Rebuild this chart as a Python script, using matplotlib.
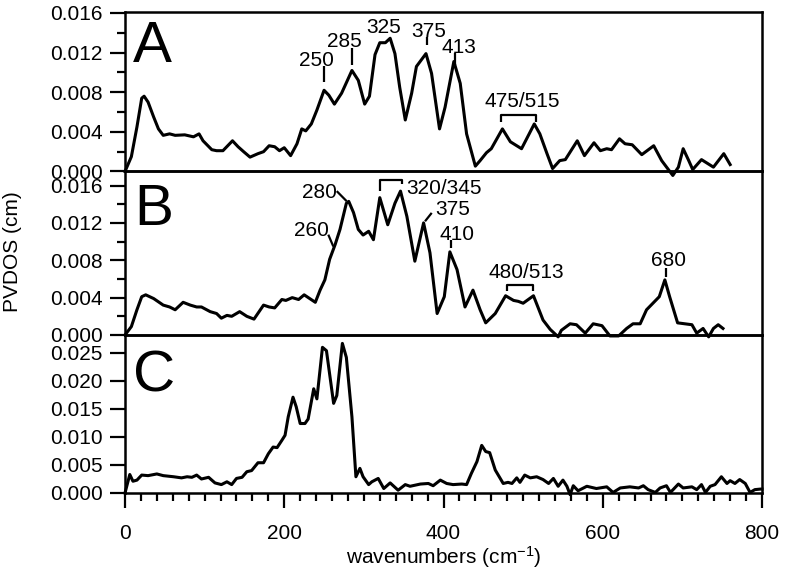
import numpy as np
import matplotlib
matplotlib.use("Agg")
import matplotlib.pyplot as plt
from matplotlib.ticker import MultipleLocator, FormatStrFormatter

plt.rcParams['font.family'] = ['Liberation Sans', 'DejaVu Sans']
plt.rcParams['mathtext.fontset'] = 'custom'
plt.rcParams['mathtext.rm'] = 'Liberation Sans'
plt.rcParams['mathtext.it'] = 'Liberation Sans:italic'

# panel A spectrum
A_x = [0, 8, 15, 21, 24, 29, 36, 42, 48, 56, 63, 75, 86, 93, 98, 109, 115, 123, 135, 142,
       149, 157, 167, 174, 181, 188, 194, 200, 208, 216, 222, 227, 234, 241, 250, 256, 263, 272, 285, 293,
       301, 307, 314, 320, 327, 333, 339, 345, 352, 360, 366, 378, 385, 395, 402, 413, 421, 429, 440, 446,
       454, 460, 474, 484, 498, 514, 521, 530, 537, 546, 553, 568, 577, 589, 597, 605, 611, 621, 628, 637,
       649, 664, 674, 688, 695, 701, 708, 713, 724, 739, 752, 760]
A_y = [0, 0.0015, 0.0045, 0.0074, 0.0076, 0.0070, 0.0055, 0.0043, 0.00365, 0.0038,
       0.00365, 0.0037, 0.0035, 0.0038, 0.0031, 0.0022, 0.0021, 0.0021, 0.0031, 0.0025,
       0.0020, 0.00145, 0.0018, 0.0020, 0.0026, 0.0025, 0.0021, 0.0024, 0.0016, 0.0028,
       0.0043, 0.0041, 0.0048, 0.0062, 0.0082, 0.0077, 0.0068, 0.0079, 0.0102, 0.0092,
       0.0068, 0.0076, 0.0118, 0.0130, 0.0130, 0.01345, 0.0119, 0.0085, 0.0052, 0.0079,
       0.0106, 0.0119, 0.0099, 0.0043, 0.0065, 0.0111, 0.0089, 0.0038, 0.00054, 0.0011,
       0.0019, 0.0023, 0.0043, 0.0030, 0.0023, 0.0048, 0.0038, 0.0018, 0.0003, 0.0011,
       0.0012, 0.0031, 0.0016, 0.0029, 0.0021, 0.0023, 0.0022, 0.0033, 0.0028, 0.0027,
       0.0017, 0.0026, 0.0011, -0.0004, 0.00044, 0.0023, 0.0011, 0.0002, 0.0012, 0.00044,
       0.0018, 0.0007]

# panel B
B_x = [0, 8, 15, 21, 26, 36, 48, 56, 63, 73, 82, 90, 96, 107, 115, 121, 128, 134, 144, 153,
       162, 174, 181, 188, 197, 202, 210, 218, 225, 232, 239, 245, 251, 257, 264, 270, 278, 281, 287, 293,
       299, 306, 312, 320, 330, 339, 346, 354, 364, 375, 383, 392, 401, 408, 417, 427, 437, 446, 453, 465,
       478, 488, 494, 500, 513, 525, 534, 544, 548, 559, 567, 578, 588, 599, 609, 620, 630, 638, 647, 655,
       663, 671, 678, 684, 694, 703, 712, 718, 726, 733, 739, 745, 751]
B_y = [0, 0.0009, 0.0027, 0.0041, 0.0043, 0.0039, 0.0032, 0.0030, 0.0027, 0.0035,
       0.0032, 0.0030, 0.0030, 0.0025, 0.0023, 0.0018, 0.0021, 0.0020, 0.0025, 0.0020,
       0.0017, 0.0032, 0.0030, 0.0029, 0.0038, 0.0037, 0.0040, 0.0038, 0.0043, 0.0039,
       0.0035, 0.0048, 0.0059, 0.0081, 0.0097, 0.0113, 0.0141, 0.0143, 0.0131, 0.0113,
       0.0107, 0.0111, 0.0102, 0.0147, 0.0118, 0.0141, 0.0154, 0.0127, 0.0079, 0.0120,
       0.0088, 0.0023, 0.0041, 0.0089, 0.0070, 0.0030, 0.0048, 0.0027, 0.0013, 0.0023,
       0.0042, 0.0037, 0.0036, 0.0034, 0.0042, 0.0016, 0.0006, -0.0002, 0.0005, 0.0012,
       0.0011, 0.0002, 0.0012, 0.0010, -0.0001, -0.0001, 0.0007, 0.0012, 0.0012, 0.0027,
       0.0034, 0.0041, 0.0059, 0.0041, 0.0013, 0.0012, 0.0011, 0.0002, 0.0007, -0.0002,
       0.0007, 0.0011, 0.0007]

# panel C
C_x = [0, 6, 10, 15, 21, 29, 40, 48, 61, 71, 78, 84, 90, 96, 105, 113, 121, 128, 134, 140,
       147, 153, 159, 167, 174, 180, 186, 191, 197, 201, 205, 211, 215, 220, 226, 230, 237, 241, 248, 253,
       262, 266, 273, 278, 285, 290, 295, 299, 306, 310, 318, 325, 333, 343, 352, 358, 371, 381, 387, 396,
       404, 412, 423, 429, 435, 442, 448, 453, 458, 465, 475, 481, 486, 492, 496, 502, 509, 517, 525, 532,
       538, 544, 550, 555, 559, 563, 569, 580, 592, 605, 613, 622, 634, 645, 651, 657, 666, 672, 680, 685,
       695, 701, 712, 718, 724, 729, 735, 741, 749, 756, 760, 766, 772, 779, 785, 791, 798, 800]
C_y = [0, 0.0033, 0.0021, 0.0023, 0.0032, 0.0031, 0.0034, 0.0031, 0.0029, 0.0027,
       0.0029, 0.0028, 0.0032, 0.0025, 0.0028, 0.0018, 0.0015, 0.0020, 0.0015, 0.0026,
       0.0028, 0.0038, 0.0040, 0.0054, 0.0054, 0.0070, 0.0082, 0.0081, 0.0094, 0.0103,
       0.0136, 0.0171, 0.0154, 0.0124, 0.0124, 0.0132, 0.0186, 0.0168, 0.0260, 0.0254,
       0.0160, 0.0174, 0.0267, 0.0242, 0.0136, 0.0029, 0.0044, 0.0029, 0.0015, 0.0020,
       0.0026, 0.0008, 0.0018, 0.0005, 0.0015, 0.0012, 0.0016, 0.0017, 0.0013, 0.0023,
       0.0017, 0.0015, 0.0016, 0.0015, 0.0035, 0.0056, 0.0085, 0.0074, 0.0072, 0.0041,
       0.0017, 0.0019, 0.0017, 0.0027, 0.0019, 0.0032, 0.0027, 0.0029, 0.0024, 0.0017,
       0.0026, 0.0012, 0.0023, 0.0012, -0.0003, 0.0013, 0.0004, 0.0012, 0.0008, 0.0011,
       0.0001, 0.0009, 0.0011, 0.0009, 0.0013, 0.0006, 0.0001, 0.0009, 0.0013, 0.0001,
       0.0016, 0.0009, 0.0011, 0.0006, 0.0015, 0.0001, 0.0012, 0.0015, 0.0029, 0.0017,
       0.0022, 0.0017, 0.0024, 0.0017, 0.0001, 0.0006, 0.0007, 0.0007]

panel_names = ["A", "B", "C"]

fs = 15
lw_line = 2.2

fig = plt.figure(figsize=(7.85, 5.70), dpi=100)
left, width = 125 / 785, 637 / 785
axA = fig.add_axes([left, 1 - 171.5 / 570, width, 159.5 / 570])
axB = fig.add_axes([left, 1 - 335 / 570, width, 163.5 / 570])
axC = fig.add_axes([left, 1 - 493 / 570, width, 158 / 570])
axes = [axA, axB, axC]

axA.plot(A_x, A_y, color='k', lw=lw_line, clip_on=False, solid_joinstyle='round', zorder=3)
axB.plot(B_x, B_y, color='k', lw=lw_line, clip_on=False, solid_joinstyle='round', zorder=3)
axC.plot(C_x, C_y, color='k', lw=lw_line, clip_on=False, solid_joinstyle='round', zorder=3)

axA.set_ylim(0, 0.0161)
axB.set_ylim(0, 0.0175)
axC.set_ylim(0, 0.0282)

for ax, name in zip(axes, panel_names):
    ax.set_xlim(0, 800)
    for s in ax.spines.values():
        s.set_linewidth(1.8)
    ax.tick_params(axis='y', which='major', direction='out', length=11, width=1.6,
                   labelsize=fs, pad=5)
    ax.tick_params(axis='y', which='minor', direction='out', length=5.5, width=1.6)
    ax.yaxis.set_major_formatter(FormatStrFormatter('%.3f'))
    ax.patch.set_alpha(0)

for ax in [axA, axB]:
    ax.yaxis.set_major_locator(MultipleLocator(0.004))
    ax.yaxis.set_minor_locator(MultipleLocator(0.002))
    ax.tick_params(axis='x', which='both', bottom=False, labelbottom=False)

axC.yaxis.set_major_locator(MultipleLocator(0.005))
axC.xaxis.set_major_locator(MultipleLocator(200))
axC.xaxis.set_minor_locator(MultipleLocator(20))
axC.tick_params(axis='x', which='major', direction='out', length=11, width=1.6,
                labelsize=fs, pad=11)
axC.tick_params(axis='x', which='minor', direction='out', length=6, width=1.6)
axC.set_xlabel('wavenumbers (cm$^{-1}$)', fontsize=fs, labelpad=1)

fig.text(0.016, 1 - 252 / 570, 'PVDOS (cm)', rotation=90, ha='center', va='center', fontsize=fs)

# panel letters
axA.text(0.012, 0.688, "A", transform=axA.transAxes, fontsize=42, va='baseline')
axB.text(0.014, 0.673, "B", transform=axB.transAxes, fontsize=42, va='baseline')
axC.text(0.012, 0.64, "C", transform=axC.transAxes, fontsize=42, va='baseline')

lk = dict(color='k', lw=1.6, solid_capstyle='butt')

# panel A peak labels
axA.text(240.5, 0.01065, "250", fontsize=fs, ha='center', va='baseline')
axA.plot([250, 250], [0.0090, 0.0106], **lk)
axA.text(275, 0.01256, "285", fontsize=fs, ha='center', va='baseline')
axA.plot([285.5, 285.5], [0.0108, 0.01246], **lk)
axA.text(324.6, 0.0140, "325", fontsize=fs, ha='center', va='baseline')
axA.text(381.8, 0.01357, "375", fontsize=fs, ha='center', va='baseline')
axA.plot([379.7, 379.7], [0.01276, 0.01357], **lk)
axA.text(419.5, 0.01195, "413", fontsize=fs, ha='center', va='baseline')
axA.plot([414.4, 414.4], [0.01074, 0.01195], **lk)
axA.text(498.6, 0.00648, "475/515", fontsize=fs, ha='center', va='baseline')
axA.plot([471.8, 471.8, 516.2, 516.2], [0.0050, 0.00574, 0.00574, 0.0050], **lk)

# panel B peak labels
axB.text(243.6, 0.01468, "280", fontsize=fs, ha='center', va='baseline')
axB.plot([265.9, 278.4], [0.0154, 0.01432], **lk)
axB.text(233.6, 0.01056, "260", fontsize=fs, ha='center', va='baseline')
axB.plot([255.3, 261.6], [0.01074, 0.00948], **lk)
axB.plot([320.3, 320.3, 347.5, 347.5], [0.01539, 0.01657, 0.01657, 0.01611], **lk)
axB.text(352.9, 0.01504, "320/345", fontsize=fs, ha='left', va='baseline')
axB.text(411.3, 0.01289, "375", fontsize=fs, ha='center', va='baseline')
axB.plot([376.8, 385.2], [0.01217, 0.01307], **lk)
axB.text(417, 0.0102, "410", fontsize=fs, ha='center', va='baseline')
axB.plot([409.4, 409.4], [0.00931, 0.0102], **lk)
axB.text(503.6, 0.00609, "480/513", fontsize=fs, ha='center', va='baseline')
axB.plot([479.4, 479.4, 512.8, 512.8], [0.00476, 0.00537, 0.00537, 0.00476], **lk)
axB.text(682.3, 0.00734, "680", fontsize=fs, ha='center', va='baseline')
axB.plot([679.4, 679.4], [0.00626, 0.0072], **lk)

fig.savefig("out.png", dpi=100)
